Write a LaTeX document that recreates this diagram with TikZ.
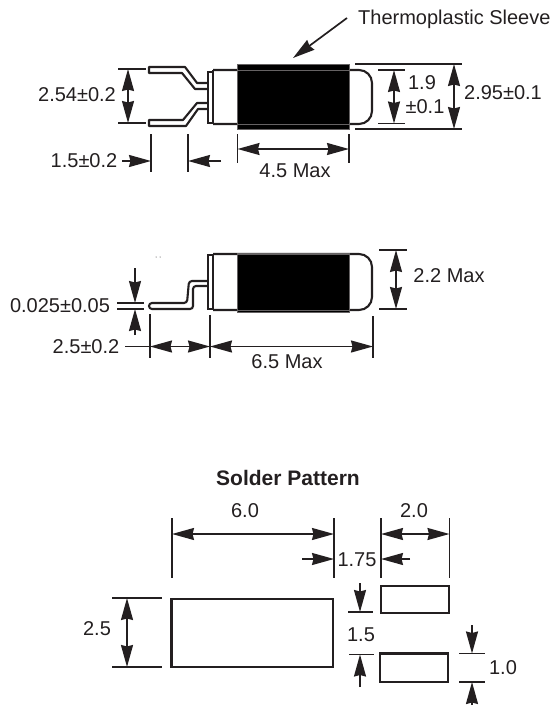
\documentclass[tikz,border=0pt]{standalone}
\usepackage{fontspec}
\setmainfont{Liberation Sans}
\usetikzlibrary{arrows.meta}
\definecolor{inkblack}{HTML}{231F20}
\tikzset{
    dimline/.style={draw=inkblack, line width=1.7pt},
    extline/.style={draw=inkblack, line width=1.9pt},
    partline/.style={draw=inkblack, line width=2.1pt},
    sleeve/.style={fill=black, draw=inkblack!70, line width=0.6pt},
    dimlabel/.style={text=inkblack, inner sep=0pt, font=\fontsize{20}{22}\selectfont}
}
\begin{document}
\begin{tikzpicture}[x=1pt, y=-1pt, >={Stealth[length=22pt, width=12pt, inset=1.5pt]}]
    \useasboundingbox (0, 0) rectangle (552, 706);

    % top view
    \draw[partline, rounded corners=13pt] (213, 70) -- (372, 70) -- (372, 124) -- (213, 124);
    \draw[partline] (213, 70) -- (213, 124);
    \draw[partline] (208, 72) rectangle (213, 123);
    \draw[partline, line join=round] (208, 83) -- (197, 83) -- (185, 67) -- (149, 67) -- (149, 73) -- (182, 73) -- (195, 89) -- (208, 89);
    \draw[partline, line join=round] (208, 103) -- (197, 103) -- (183, 120) -- (149, 120) -- (149, 126) -- (186, 126) -- (198, 109) -- (208, 109);
    \fill[sleeve] (237.5, 64) rectangle (349, 129);
    \foreach \y in {70, 124} {
        \draw[inkblack!70, line width=0.8pt] (237.5, \y) -- (349, \y);
    };

    \node[dimlabel, anchor=west] (sleevelabel) at (358, 19) {Thermoplastic Sleeve};
    \draw[dimline, ->] (347, 18) -- (293, 58);

    \foreach \y in {69, 123} {
        \draw[extline] (118, \y) -- (146, \y);
    };
    \draw[dimline, <->] (128, 69) -- (128, 123);
    \node[dimlabel] (leadgap) at (77, 95) {2.54±0.2};

    \foreach \x in {151, 188} {
        \draw[extline] (\x, 134) -- (\x, 172);
    };
    \draw[dimline, ->] (122, 161) -- (151, 161);
    \draw[dimline, ->] (221, 161) -- (188, 161);
    \node[dimlabel] (leadlength) at (84, 161) {1.5±0.2};

    \foreach \x in {237.5, 349} {
        \draw[extline] (\x, 134) -- (\x, 163);
    };
    \draw[dimline, <->] (237.5, 149) -- (349, 149);
    \node[dimlabel] (sleevewidth) at (295, 171) {4.5 Max};

    \foreach \y in {70, 123.5} {
        \draw[extline] (378, \y) -- (405, \y);
    };
    \draw[dimline, <->] (394, 70) -- (394, 123.5);
    \node[dimlabel] (bodywidth) at (422, 83) {1.9};
    \node[dimlabel] (bodytol) at (425, 107) {±0.1};

    \foreach \y in {64, 129} {
        \draw[extline] (355, \y) -- (462, \y);
    };
    \draw[dimline, <->] (454, 64) -- (454, 129);
    \node[dimlabel] (sleevedia) at (503, 93) {2.95±0.1};

    % side view
    \foreach \x in {156, 160} {
        \fill[inkblack] (\x, 257) circle (0.5);
    };
    \draw[partline, rounded corners=13pt] (213, 254) -- (372, 254) -- (372, 310) -- (213, 310);
    \draw[partline] (213, 254) -- (213, 310);
    \draw[partline] (208, 255) rectangle (213, 309);
    \draw[partline, rounded corners=3pt] (208, 281) -- (189, 281) -- (187, 303) -- (149, 303) -- (149, 309) -- (193, 309) -- (193, 286) -- (208, 286);
    \fill[sleeve] (237.5, 253) rectangle (349, 312);
    \foreach \y in {254, 310} {
        \draw[inkblack!70, line width=0.8pt] (237.5, \y) -- (349, \y);
    };

    \foreach \y in {250, 309} {
        \draw[extline] (379, \y) -- (407, \y);
    };
    \draw[dimline, <->] (396, 250) -- (396, 309);
    \node[dimlabel] (heightmax) at (449, 276) {2.2 Max};

    \foreach \y in {303, 309} {
        \draw[extline] (117, \y) -- (144, \y);
    };
    \draw[dimline, ->] (135, 268) -- (135, 303);
    \draw[dimline, ->] (135, 335) -- (135, 309);
    \node[dimlabel] (leadthick) at (60, 306) {0.025±0.05};

    \draw[extline] (150, 314) -- (150, 358);
    \draw[extline] (210, 315) -- (210, 358);
    \draw[extline] (373, 316) -- (373, 358);
    \draw[dimline] (125, 346.5) -- (150, 346.5);
    \draw[dimline, <->] (150, 346.5) -- (210, 346.5);
    \draw[dimline, <->] (210, 346.5) -- (373, 346.5);
    \node[dimlabel] (standoff) at (86, 347) {2.5±0.2};
    \node[dimlabel] (lengthmax) at (287, 362) {6.5 Max};

    % solder pattern
    \node[dimlabel, font=\fontsize{21}{23}\selectfont\bfseries] (patterntitle) at (288, 478) {Solder Pattern};
    \draw[partline] (171.5, 599) rectangle (333, 667);
    \draw[partline] (381, 586) rectangle (449, 613);
    \draw[partline] (380, 653.5) rectangle (448, 682);

    \foreach \x in {172, 334, 381, 449.5} {
        \draw[extline] (\x, 518) -- (\x, 578);
    };
    \draw[dimline, <->] (172, 534) -- (334, 534);
    \draw[dimline, <->] (381, 534) -- (449.5, 534);
    \node[dimlabel] (padgap) at (245, 511) {6.0};
    \node[dimlabel] (padwidth) at (414, 511) {2.0};

    \draw[dimline, ->] (302, 559) -- (334, 559);
    \draw[dimline, ->] (410, 559) -- (381, 559);
    \node[dimlabel] (padpitch) at (357, 560) {1.75};

    \foreach \y in {598, 667} {
        \draw[extline] (112, \y) -- (162, \y);
    };
    \draw[dimline, <->] (127, 598) -- (127, 667);
    \node[dimlabel] (padheight) at (97, 629) {2.5};

    \draw[extline] (348, 612) -- (373, 612);
    \draw[extline] (349, 654.5) -- (374, 654.5);
    \draw[dimline, ->] (360, 583) -- (360, 612);
    \draw[dimline, ->] (360, 687) -- (360, 654.5);
    \node[dimlabel] (padspace) at (361, 635) {1.5};

    \foreach \y in {653.5, 682} {
        \draw[extline] (459, \y) -- (485, \y);
    };
    \draw[dimline, ->] (472, 625) -- (472, 653.5);
    \draw[dimline, ->] (472, 705) -- (472, 682);
    \node[dimlabel] (padlower) at (503, 668) {1.0};
\end{tikzpicture}
\end{document}
